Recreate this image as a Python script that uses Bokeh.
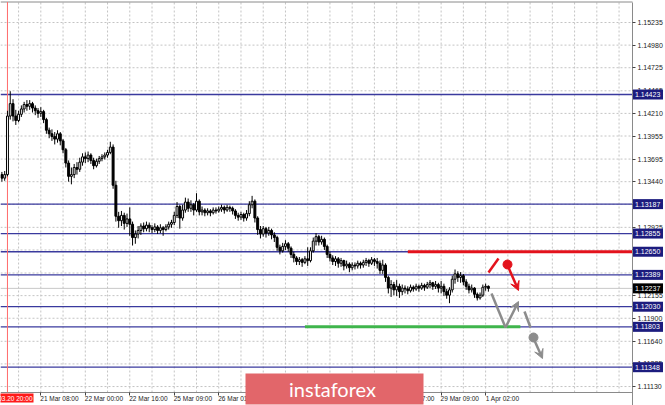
from bokeh.plotting import figure
from bokeh.models import (FixedTicker, Arrow, VeeHead, ColumnDataSource, PrintfTickFormatter,
                          LinearAxis)
from bokeh.core.properties import value
from bokeh.embed import file_html
from bokeh.resources import INLINE

# ---------------- data (EURUSD H1) ----------------
first_open = 1.1352
close = [1.1348, 1.1352, 1.1418, 1.1432, 1.1418, 1.1413, 1.1420, 1.1426, 1.1431, 1.1429,
         1.1432, 1.1427, 1.1424, 1.1421, 1.1423, 1.1414, 1.1402, 1.1398, 1.1395, 1.1392,
         1.1398, 1.1390, 1.1380, 1.1365, 1.1350, 1.1352, 1.1360, 1.1358, 1.1366, 1.1372,
         1.1370, 1.1374, 1.1368, 1.1362, 1.1367, 1.1370, 1.1372, 1.1374, 1.1377, 1.1383,
         1.1340, 1.1305, 1.1300, 1.1306, 1.1297, 1.1302, 1.1296, 1.1281, 1.1285, 1.1289,
         1.1294, 1.1291, 1.1295, 1.1292, 1.1290, 1.1293, 1.1289, 1.1292, 1.1290, 1.1293,
         1.1296, 1.1298, 1.1306, 1.1316, 1.1303, 1.1312, 1.1321, 1.1314, 1.1318, 1.1312,
         1.1322, 1.1310, 1.1312, 1.1309, 1.1311, 1.1309, 1.1312, 1.1311, 1.1313, 1.1315,
         1.1312, 1.1315, 1.1314, 1.1311, 1.1306, 1.1304, 1.1307, 1.1303, 1.1308, 1.1318,
         1.1322, 1.1303, 1.1290, 1.1285, 1.1291, 1.1286, 1.1289, 1.1284, 1.1281, 1.1270,
         1.1266, 1.1271, 1.1274, 1.1269, 1.1262, 1.1258, 1.1254, 1.1256, 1.1253, 1.1257,
         1.1255, 1.1266, 1.1277, 1.1282, 1.1276, 1.1279, 1.1271, 1.1262, 1.1258, 1.1254,
         1.1257, 1.1252, 1.1255, 1.1249, 1.1251, 1.1247, 1.1250, 1.1249, 1.1252, 1.1250,
         1.1253, 1.1255, 1.1252, 1.1256, 1.1254, 1.1252, 1.1244, 1.1250, 1.1236, 1.1224,
         1.1228, 1.1222, 1.1226, 1.1220, 1.1224, 1.1223, 1.1221, 1.1225, 1.1223, 1.1226,
         1.1224, 1.1227, 1.1225, 1.1228, 1.1230, 1.1226, 1.1228, 1.1224, 1.1226, 1.1220,
         1.1216, 1.1222, 1.1234, 1.1240, 1.1236, 1.1238, 1.1231, 1.1226, 1.1222, 1.1224,
         1.1217, 1.1213, 1.1216, 1.1225, 1.1226, 1.12237]
high = [1.1355, 1.1356, 1.1424, 1.1446, 1.1437, 1.1425, 1.1424, 1.1430, 1.1434, 1.1436,
        1.1436, 1.1434, 1.1430, 1.1427, 1.1428, 1.1425, 1.1416, 1.1405, 1.1403, 1.1400,
        1.1402, 1.1400, 1.1392, 1.1382, 1.1368, 1.1360, 1.1364, 1.1366, 1.1371, 1.1376,
        1.1377, 1.1378, 1.1376, 1.1371, 1.1370, 1.1373, 1.1375, 1.1377, 1.1380, 1.1389,
        1.1386, 1.1345, 1.1310, 1.1311, 1.1309, 1.1308, 1.1315, 1.1299, 1.1289, 1.1294,
        1.1297, 1.1298, 1.1299, 1.1298, 1.1295, 1.1297, 1.1295, 1.1296, 1.1294, 1.1296,
        1.1299, 1.1301, 1.1310, 1.1321, 1.1318, 1.1318, 1.1326, 1.1325, 1.1323, 1.1320,
        1.1331, 1.1324, 1.1316, 1.1314, 1.1314, 1.1313, 1.1315, 1.1315, 1.1316, 1.1318,
        1.1317, 1.1318, 1.1317, 1.1316, 1.1313, 1.1309, 1.1310, 1.1309, 1.1312, 1.1322,
        1.1328, 1.1324, 1.1305, 1.1294, 1.1294, 1.1293, 1.1293, 1.1291, 1.1287, 1.1283,
        1.1273, 1.1275, 1.1278, 1.1276, 1.1271, 1.1265, 1.1260, 1.1259, 1.1258, 1.1260,
        1.1270, 1.1270, 1.1281, 1.1286, 1.1284, 1.1283, 1.1281, 1.1273, 1.1265, 1.1261,
        1.1260, 1.1259, 1.1258, 1.1256, 1.1255, 1.1253, 1.1253, 1.1253, 1.1255, 1.1254,
        1.1256, 1.1258, 1.1257, 1.1259, 1.1258, 1.1258, 1.1255, 1.1256, 1.1252, 1.1238,
        1.1233, 1.1231, 1.1233, 1.1229, 1.1228, 1.1227, 1.1226, 1.1228, 1.1227, 1.1229,
        1.1228, 1.1230, 1.1229, 1.1231, 1.1233, 1.1231, 1.1232, 1.1230, 1.1232, 1.1229,
        1.1223, 1.1225, 1.1238, 1.1245, 1.1243, 1.1242, 1.1240, 1.1234, 1.1229, 1.1228,
        1.1225, 1.1219, 1.1219, 1.1228, 1.1229, 1.1227]
low = [1.1344, 1.1345, 1.1350, 1.1414, 1.1412, 1.1408, 1.1411, 1.1417, 1.1422, 1.1424,
       1.1425, 1.1422, 1.1419, 1.1416, 1.1417, 1.1410, 1.1398, 1.1393, 1.1390, 1.1386,
       1.1388, 1.1385, 1.1376, 1.1360, 1.1344, 1.1341, 1.1348, 1.1352, 1.1355, 1.1362,
       1.1365, 1.1366, 1.1364, 1.1358, 1.1360, 1.1364, 1.1367, 1.1369, 1.1371, 1.1375,
       1.1336, 1.1299, 1.1292, 1.1294, 1.1290, 1.1293, 1.1283, 1.1272, 1.1274, 1.1280,
       1.1284, 1.1287, 1.1288, 1.1287, 1.1286, 1.1287, 1.1285, 1.1286, 1.1283, 1.1288,
       1.1290, 1.1292, 1.1295, 1.1303, 1.1291, 1.1300, 1.1309, 1.1310, 1.1310, 1.1306,
       1.1310, 1.1306, 1.1306, 1.1305, 1.1306, 1.1305, 1.1307, 1.1308, 1.1309, 1.1310,
       1.1308, 1.1310, 1.1310, 1.1307, 1.1302, 1.1300, 1.1301, 1.1299, 1.1300, 1.1305,
       1.1314, 1.1298, 1.1284, 1.1280, 1.1282, 1.1281, 1.1283, 1.1279, 1.1276, 1.1266,
       1.1262, 1.1264, 1.1267, 1.1265, 1.1258, 1.1253, 1.1250, 1.1250, 1.1248, 1.1251,
       1.1249, 1.1253, 1.1264, 1.1272, 1.1272, 1.1273, 1.1267, 1.1258, 1.1254, 1.1250,
       1.1249, 1.1247, 1.1248, 1.1244, 1.1246, 1.1242, 1.1244, 1.1245, 1.1246, 1.1246,
       1.1247, 1.1249, 1.1248, 1.1250, 1.1249, 1.1246, 1.1240, 1.1240, 1.1231, 1.1218,
       1.1214, 1.1216, 1.1215, 1.1213, 1.1216, 1.1218, 1.1217, 1.1219, 1.1220, 1.1221,
       1.1220, 1.1222, 1.1221, 1.1223, 1.1224, 1.1222, 1.1223, 1.1219, 1.1218, 1.1215,
       1.1212, 1.1207, 1.1219, 1.1229, 1.1231, 1.1230, 1.1227, 1.1222, 1.1218, 1.1219,
       1.1213, 1.1210, 1.1211, 1.1214, 1.1221, 1.1220]

# horizontal levels drawn on the chart
level_prices = [1.14423, 1.13187, 1.12855, 1.12650, 1.12389, 1.12030, 1.11803, 1.11348]
level_labels = ["1.14423", "1.13187", "1.12855", "1.12650", "1.12389", "1.12030", "1.11803", "1.11348"]
current_price = 1.12237
current_label = "1.12237"
resistance_price = 1.12650      # red segment
resistance_from_bar = 146
support_price = 1.11803         # green segment
support_bars = (109, 186.5)
event_bar = 2                   # red vertical line
event_label = "2019.03.20 20:00"
logo_text = "instaforex"

# axes
y_ticks = [1.15235, 1.14980, 1.14725, 1.14465, 1.14210, 1.13955, 1.13695, 1.13440,
           1.13185, 1.12925, 1.12670, 1.12410, 1.12155, 1.11900, 1.11640, 1.11385, 1.11130]
x_tick_bars = [14, 30, 46, 62, 78, 94, 110, 126, 142, 158, 174]
x_tick_labels = ["21 Mar 08:00", "22 Mar 00:00", "22 Mar 16:00", "25 Mar 09:00", "26 Mar 01:00",
                 "26 Mar 17:00", "27 Mar 09:00", "28 Mar 01:00", "28 Mar 17:00", "29 Mar 09:00",
                 "1 Apr 02:00"]
grid_bars = list(range(6, 227, 8))

# ---------------- geometry helpers (reference pixels -> data) ----------------
def bx(px):
    return (px - 1.4) / 2.78

def pp(py):
    return 1.15235 - (py - 22) / 8868.0

XL, XR = bx(0), bx(665)          # whole canvas
YB, YT = pp(405), pp(0)
X_EDGE = bx(632)                 # right border of the price area
Y_EDGE = pp(392)                 # bottom border of the price area
Y_TOP = pp(1.5)

LEVEL = "#3a3a9e"
BOX = "#1c1c7e"
RED = "#e3121c"
GRAY = "#8c8c8c"
GREEN = "#3fb54c"
BORDER = "#8a8a8a"
FONT = "Liberation Sans"

p = figure(width=665, height=405, x_range=(XL, XR), y_range=(YB, YT),
           x_axis_location=None, y_axis_location=None,
           output_backend="svg", toolbar_location=None,
           min_border_left=0, min_border_top=0, min_border_right=0, min_border_bottom=0)
p.background_fill_color = "white"
p.border_fill_color = "white"
p.outline_line_color = None
p.xgrid.visible = False
p.ygrid.visible = False

# price axis (right border of the chart)
yax = LinearAxis(fixed_location=X_EDGE, bounds=(YB, Y_TOP),
                 ticker=FixedTicker(ticks=y_ticks), formatter=PrintfTickFormatter(format="%.5f"))
p.add_layout(yax, "right")
# time axis: tick marks
xtick_ax = LinearAxis(fixed_location=Y_EDGE, bounds=(XL, X_EDGE),
                      ticker=FixedTicker(ticks=x_tick_bars))
xtick_ax.major_label_overrides = {b: "" for b in x_tick_bars}
p.add_layout(xtick_ax, "below")
# time axis: labels, left-aligned to their tick as in the terminal
lab_pos = [round(b + len(t) * 3.1 / 2 / 2.78, 1) for b, t in zip(x_tick_bars, x_tick_labels)]
xlab_ax = LinearAxis(fixed_location=Y_EDGE, ticker=FixedTicker(ticks=lab_pos))
xlab_ax.major_label_overrides = {b: t for b, t in zip(lab_pos, x_tick_labels)}
xlab_ax.axis_line_color = None
xlab_ax.major_tick_line_color = None
xlab_ax.major_tick_out = 0
p.add_layout(xlab_ax, "below")

for ax in (yax, xtick_ax, xlab_ax):
    ax.major_label_text_font = FONT
    ax.major_label_text_color = "#222222"
    ax.minor_tick_line_color = None
    ax.major_tick_in = 0
for ax in (yax, xtick_ax):
    ax.axis_line_color = BORDER
    ax.major_tick_line_color = "#444444"
    ax.major_tick_out = 3
yax.major_label_text_font_size = "7px"
yax.major_label_standoff = 2
xlab_ax.major_label_text_font_size = "6.5px"
xlab_ax.major_label_standoff = 2

# dotted grid inside the price area
p.segment(x0=grid_bars, x1=grid_bars, y0=[Y_EDGE] * len(grid_bars), y1=[Y_TOP] * len(grid_bars),
          line_color="#c4c4c4", line_dash="2 2", line_width=1)
p.segment(x0=[XL] * len(y_ticks), x1=[X_EDGE] * len(y_ticks), y0=y_ticks, y1=y_ticks,
          line_color="#c4c4c4", line_dash="2 2", line_width=1)
# top border
p.segment(x0=[XL], x1=[X_EDGE], y0=[Y_TOP], y1=[Y_TOP], line_color=BORDER, line_width=1)

# levels
n = len(level_prices)
p.segment(x0=[XL] * n, x1=[X_EDGE] * n, y0=level_prices, y1=level_prices,
          line_color=LEVEL, line_width=1.3)
p.segment(x0=[XL], x1=[X_EDGE], y0=[current_price], y1=[current_price],
          line_color="#c8c8c8", line_width=1)
p.segment(x0=[event_bar], x1=[event_bar], y0=[Y_EDGE], y1=[Y_TOP],
          line_color="#ff6b6b", line_width=1)
p.segment(x0=[resistance_from_bar], x1=[X_EDGE], y0=[resistance_price], y1=[resistance_price],
          line_color=RED, line_width=3)
p.segment(x0=[support_bars[0]], x1=[support_bars[1]], y0=[support_price], y1=[support_price],
          line_color=GREEN, line_width=3)

# candles
bars = list(range(len(close)))
opens = [first_open] + close[:-1]
src = ColumnDataSource(dict(
    x=bars, h=high, l=low,
    top=[max(o, c) for o, c in zip(opens, close)],
    bot=[min(o, c) for o, c in zip(opens, close)],
    fill=["white" if c >= o else "black" for o, c in zip(opens, close)]))
p.segment(x0="x", x1="x", y0="l", y1="h", source=src, line_color="black", line_width=1)
p.vbar(x="x", width=0.7, top="top", bottom="bot", fill_color="fill", line_color="black",
       line_width=1, source=src)

# forecast arrows
p.segment(x0=[bx(488)], y0=[pp(272)], x1=[bx(498)], y1=[pp(258)], line_color=RED, line_width=2.5)
p.scatter(x=[bx(507)], y=[pp(264)], size=9, color=RED)
p.add_layout(Arrow(end=VeeHead(size=9, fill_color=RED, line_color=RED),
                   x_start=bx(508), y_start=pp(267), x_end=bx(518), y_end=pp(290),
                   line_color=RED, line_width=2.5))
p.segment(x0=[bx(491)], y0=[pp(293)], x1=[bx(505)], y1=[pp(327)], line_color=GRAY, line_width=2.5)
p.add_layout(Arrow(end=VeeHead(size=9, fill_color=GRAY, line_color=GRAY),
                   x_start=bx(505), y_start=pp(327), x_end=bx(518), y_end=pp(301),
                   line_color=GRAY, line_width=2.5))
p.segment(x0=[bx(524)], y0=[pp(311)], x1=[bx(530)], y1=[pp(327)], line_color=GRAY, line_width=2.5)
p.scatter(x=[bx(533)], y=[pp(337)], size=9, color=GRAY)
p.add_layout(Arrow(end=VeeHead(size=9, fill_color=GRAY, line_color=GRAY),
                   x_start=bx(534), y_start=pp(340), x_end=bx(542), y_end=pp(358),
                   line_color=GRAY, line_width=2.5))

# price labels on the axis (drawn above the axis)
box_h = 10 / 8868.0
box_w = 30 / 2.78
p.rect(x=[bx(647.5)] * n, y=level_prices, width=box_w, height=box_h,
       fill_color=BOX, line_color=None, level="overlay")
p.text(x=[bx(634.5)] * n, y=level_prices, text=level_labels, text_font=value(FONT),
       text_font_size="7px", text_color="white", text_baseline="middle", text_align="left",
       level="overlay")
p.rect(x=[bx(647.5)], y=[current_price], width=box_w, height=box_h,
       fill_color="black", line_color=None, level="overlay")
p.text(x=[bx(634.5)], y=[current_price], text=[current_label], text_font=value(FONT),
       text_font_size="7px", text_color="white", text_baseline="middle", text_align="left",
       level="overlay")
# label of the vertical event line
p.rect(x=[bx(16.5)], y=[pp(397.5)], width=33 / 2.78, height=9 / 8868.0,
       fill_color="#ff1a1a", line_color=None, level="overlay")
p.text(x=[bx(32)], y=[pp(397.5)], text=[event_label], text_font=value(FONT),
       text_font_size="6.5px", text_color="white", text_baseline="middle", text_align="right",
       level="overlay")

# logo
p.rect(x=[bx(334)], y=[pp(388.5)], width=178 / 2.78, height=31 / 8868.0,
       fill_color="#e2666a", line_color=None, level="overlay")
p.text(x=[bx(332)], y=[pp(388)], text=[logo_text], text_font=value("Lato"),
       text_font_size="20px", text_color="white", text_baseline="middle", text_align="center",
       level="overlay")

open("out.html", "w").write(file_html(p, INLINE))
